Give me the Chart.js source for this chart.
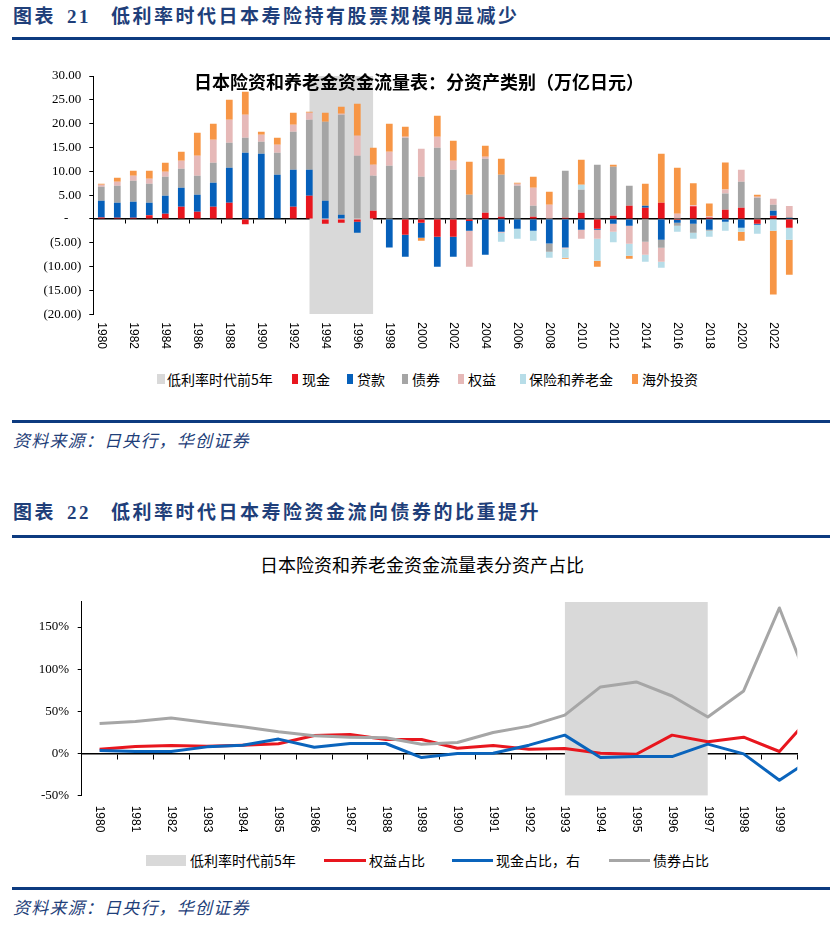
<!DOCTYPE html>
<html><head><meta charset="utf-8">
<script src="https://cdn.jsdelivr.net/npm/chart.js@4.4.1/dist/chart.umd.min.js"></script>
<style>
body{margin:0;width:839px;height:930px;background:#fff;position:relative;overflow:hidden;font-family:"Noto Sans CJK SC",sans-serif;}
.hdr{position:absolute;font-family:"Liberation Serif","Noto Sans CJK SC",serif;font-weight:bold;font-size:19px;line-height:24px;color:#1F3F7A;white-space:nowrap;letter-spacing:2.5px;}
.rule{position:absolute;left:12px;width:818px;height:3px;background:#0D3B80;}
.src{position:absolute;left:13px;font-style:italic;font-size:17px;line-height:22px;color:#1F3F7A;letter-spacing:1.2px;white-space:nowrap;}
.ttl{position:absolute;font-size:18px;line-height:22px;color:#000;white-space:nowrap;transform:translateX(-50%);}
.lg{position:absolute;font-size:14px;line-height:16px;color:#000;white-space:nowrap;}
.sw{position:absolute;}
canvas{position:absolute;left:0;}
</style></head>
<body>
<div class="hdr" style="left:13px;top:5px">图表</div>
<div class="hdr" style="left:67px;top:5px">21</div>
<div class="hdr" style="left:111px;top:5px">低利率时代日本寿险持有股票规模明显减少</div>
<div class="rule" style="top:37px"></div>

<canvas id="c1" width="839" height="300" style="top:60px"></canvas>
<div class="ttl" style="left:419px;top:70px;font-weight:bold">日本险资和养老金资金流量表：分资产类别（万亿日元）</div>

<div class="sw" style="left:157px;top:374px;width:8px;height:10px;background:#D9D9D9"></div>
<div class="lg" style="left:167px;top:371px">低利率时代前5年</div>
<div class="sw" style="left:292px;top:374px;width:6px;height:10px;background:#E8161E"></div>
<div class="lg" style="left:302px;top:371px">现金</div>
<div class="sw" style="left:347px;top:374px;width:6px;height:10px;background:#0660BA"></div>
<div class="lg" style="left:357px;top:371px">贷款</div>
<div class="sw" style="left:402px;top:374px;width:6px;height:10px;background:#A5A5A5"></div>
<div class="lg" style="left:412px;top:371px">债券</div>
<div class="sw" style="left:458px;top:374px;width:6px;height:10px;background:#E6B9B8"></div>
<div class="lg" style="left:468px;top:371px">权益</div>
<div class="sw" style="left:520px;top:374px;width:6px;height:10px;background:#B7DDE8"></div>
<div class="lg" style="left:529px;top:371px">保险和养老金</div>
<div class="sw" style="left:632px;top:374px;width:6px;height:10px;background:#F79646"></div>
<div class="lg" style="left:642px;top:371px">海外投资</div>

<div class="rule" style="top:420px"></div>
<div class="src" style="top:429px">资料来源：日央行，华创证券</div>

<div class="hdr" style="left:13px;top:501px">图表</div>
<div class="hdr" style="left:67px;top:501px">22</div>
<div class="hdr" style="left:111px;top:501px">低利率时代日本寿险资金流向债券的比重提升</div>
<div class="rule" style="top:535px"></div>

<div class="ttl" style="left:422px;top:553px">日本险资和养老金资金流量表分资产占比</div>
<canvas id="c2" width="839" height="260" style="top:590px"></canvas>

<div class="sw" style="left:146px;top:855px;width:40px;height:11px;background:#D9D9D9"></div>
<div class="lg" style="left:190px;top:852px">低利率时代前5年</div>
<div class="sw" style="left:324px;top:859px;width:42px;height:3px;background:#E8161E"></div>
<div class="lg" style="left:369px;top:852px">权益占比</div>
<div class="sw" style="left:452px;top:859px;width:41px;height:3px;background:#0A64BC"></div>
<div class="lg" style="left:496px;top:852px">现金占比，右</div>
<div class="sw" style="left:609px;top:859px;width:41px;height:3px;background:#A6A6A6"></div>
<div class="lg" style="left:653px;top:852px">债券占比</div>

<div class="rule" style="top:887px"></div>
<div class="src" style="top:896px">资料来源：日央行，华创证券</div>

<script>
// ---------- Chart 1 data (万亿日元) ----------
const years1 = ['1980','1981','1982','1983','1984','1985','1986','1987','1988','1989',
  '1990','1991','1992','1993','1994','1995','1996','1997','1998','1999',
  '2000','2001','2002','2003','2004','2005','2006','2007','2008','2009',
  '2010','2011','2012','2013','2014','2015','2016','2017','2018','2019',
  '2020','2021','2022','2023'];
const lowRateYears = ['1993','1994','1995','1996','1997'];
const cash = [0.3,0.28,0.28,0.77,1.12,2.59,1.54,2.59,3.43,-1.12,
  0,0,2.59,4.9,-0.98,-0.77,-0.56,1.75,0,-3.29,
  -0.77,-3.71,-3.71,-0.42,1.33,0.49,0,0.49,0,0.28,
  1.33,-2.03,0.7,2.8,2.38,3.43,-0.2,2.66,0.3,1.96,
  2.38,-0.98,0.7,-1.82];
const loans = [3.55,3.15,3.36,2.66,3.78,3.98,3.56,5.03,7.34,13.92,
  13.71,9.3,7.76,5.45,3.85,0.91,-2.31,0,-6.01,-4.62,
  -3.15,-6.29,-4.2,-2.03,-7.48,-2.66,-2.03,-2.45,-5.17,-6.01,
  -2.24,-0.21,-0.98,-1.4,0.42,-4.34,-0.6,-0.98,-2.24,-0.56,
  -1.82,-0.21,1.05,0.2];
const bonds = [2.93,3.56,4.4,3.98,3.98,3.99,3.99,4.2,5.24,3.14,
  2.51,4.62,7.97,10.49,16.57,20.98,13.29,7.34,11.19,17.06,
  8.88,14.97,10.35,5.1,11.33,8.81,6.99,2.31,-1.68,9.86,
  4.82,11.4,10.28,4.19,-4.76,-1.68,-0.6,-1.89,-0.21,3.36,
  5.45,4.48,1.26,0.2];
const equity = [0.42,0.84,1.05,1.05,1.05,1.68,4.2,4.82,4.83,4.83,
  1.47,1.67,1.47,1.47,0,0.2,4.19,2.31,2.94,0.21,
  5.88,2.3,1.89,-7.55,0.42,-0.21,0.42,3.77,3.01,-0.2,
  -1.89,-1.89,-1.68,-3.78,-2.73,-2.94,1.12,0.21,0.2,0.84,
  2.52,0.21,1.26,2.31];
const insurance = [0,0,0,0,0,0,0,0,0,0,
  0,0,0,0,0,0,0,0,0,0,
  0,0,0,0,0,-1.89,-2.1,-2.1,-1.26,-1.9,
  1.05,-4.61,-2.24,-2.52,-1.47,-1.26,-1.26,-1.26,-1.26,-1.89,
  -0.84,-1.89,-2.45,-2.52];
const overseas = [0.21,0.84,1.05,1.68,1.89,1.89,4.82,3.36,4.19,4.82,
  0.63,1.47,2.52,0.21,1.89,1.48,6.72,3.57,5.87,2.1,
  -0.63,4.41,4.19,6.93,2.3,3.36,0.21,2.31,2.72,-0.21,
  5.25,-1.26,0.42,-0.63,4.61,10.28,9.65,4.61,2.73,5.67,
  -1.89,0.42,-13.42,-7.34];
const yTicks1 = {min:-20, max:30, step:5};

// ---------- Chart 2 data (%) ----------
const years2 = ['1980','1981','1982','1983','1984','1985','1986','1987','1988','1989',
  '1990','1991','1992','1993','1994','1995','1996','1997','1998','1999','2000'];
const lastShownYear2 = '1999';
const equityShare = [5.2,8.3,9.5,8.7,9.9,11.5,21.4,22.6,16.7,16.7,
  6.3,9.5,5.2,6.0,0.4,-0.8,21.8,13.9,19.4,2.4,49.8];
const cashShare = [3.6,2.4,2.4,7.9,9.9,17.1,7.5,11.9,11.9,-4.8,
  0,0.4,9.9,21.8,-4.8,-3.6,-3.6,11.1,-0.4,-31.7,-3.6];
const bondShare = [35.7,38.1,42.1,36.9,31.7,25.8,21.0,19.4,18.7,11.1,
  13.1,25.0,32.5,45.6,79.0,84.9,68.2,43.3,74.2,172.6,64];
const yTicks2 = {min:-50, max:180, step:50};

// ---------- helpers ----------
function rotLabels(step, gap){
  return {
    id:'rotLabels',
    afterDraw(chart){
      const xs = chart.scales.x, ctx = chart.ctx, ca = chart.chartArea;
      ctx.save();
      ctx.font = '12px "Liberation Sans", Arial, sans-serif';
      ctx.fillStyle = '#000';
      ctx.textAlign = 'left';
      ctx.textBaseline = 'middle';
      for (let i = xs.min; i <= xs.max; i += step){
        const x = xs.getPixelForValue(i);
        ctx.save();
        ctx.translate(x, ca.bottom + gap);
        ctx.rotate(Math.PI/2);
        ctx.fillText(chart.data.labels[i], 0, 0);
        ctx.restore();
      }
      ctx.restore();
    }
  };
}
const tickFont = {family:'"Liberation Serif", "Times New Roman", serif', size:13};

// ---------- Chart 1 ----------
const shade1 = years1.map(y => lowRateYears.includes(y) ? yTicks1.max : null);
const barDs = (label, data, color) => ({type:'bar', label, data, backgroundColor:color,
  borderWidth:0, stack:'s', order:0, barPercentage:0.42, categoryPercentage:1});
new Chart(document.getElementById('c1'), {
  type:'bar',
  data:{
    labels: years1,
    datasets:[
      {type:'line', label:'低利率时代前5年', data:shade1, stack:'shade', order:5,
       borderColor:'rgba(0,0,0,0)', borderWidth:0, pointRadius:0, backgroundColor:'#D9D9D9',
       fill:{value:yTicks1.min}, spanGaps:false},
      barDs('现金', cash, '#E8161E'),
      barDs('贷款', loans, '#0660BA'),
      barDs('债券', bonds, '#A5A5A5'),
      barDs('权益', equity, '#E6B9B8'),
      barDs('保险和养老金', insurance, '#B7DDE8'),
      barDs('海外投资', overseas, '#F79646')
    ]
  },
  options:{
    responsive:false, animation:false, devicePixelRatio:1,
    layout:{padding:{left:0, right:41.7, top:16, bottom:45.7}},
    plugins:{legend:{display:false}, tooltip:{enabled:false}, title:{display:false}},
    scales:{
      x:{type:'category', stacked:true, offset:true, position:{y:0},
         ticks:{display:false, autoSkip:false},
         grid:{offset:true, drawOnChartArea:false, drawTicks:true, tickLength:4, lineWidth:1,
               color:(c)=> (c.index === undefined || c.index % 2 === 0) ? '#000' : 'rgba(0,0,0,0)'},
         border:{display:true, color:'#000', width:1.5}},
      y:{stacked:true, min:yTicks1.min, max:yTicks1.max,
         afterFit(s){ s.width = 93.3; s.paddingTop = 0; s.paddingBottom = 0; },
         ticks:{stepSize:yTicks1.step, color:'#000', font:tickFont, padding:8,
                callback:(v)=> v === 0 ? '-    ' : (v < 0 ? '(' + Math.abs(v).toFixed(2) + ')' : v.toFixed(2))},
         grid:{drawOnChartArea:false, drawTicks:true, tickLength:4, color:'#000'},
         border:{display:true, color:'#000', width:1}}
    }
  },
  plugins:[rotLabels(2, 8)]
});

// ---------- Chart 2 ----------
const shade2 = years2.map(y => lowRateYears.includes(y) ? yTicks2.max : null);
const lineDs = (label, data, color, order) => ({label, data, borderColor:color, backgroundColor:color,
  borderWidth:3, pointRadius:0, tension:0, fill:false, order, clip:{left:5, top:5, right:0, bottom:5},
  borderJoinStyle:'round'});
new Chart(document.getElementById('c2'), {
  type:'line',
  data:{
    labels: years2,
    datasets:[
      {label:'低利率时代前5年', data:shade2, order:5, borderColor:'rgba(0,0,0,0)', borderWidth:0,
       pointRadius:0, backgroundColor:'#D9D9D9', fill:{value:yTicks2.min}},
      lineDs('权益占比', equityShare, '#E8161E', 3),
      lineDs('现金占比，右', cashShare, '#0A64BC', 2),
      lineDs('债券占比', bondShare, '#A6A6A6', 1)
    ]
  },
  options:{
    responsive:false, animation:false, devicePixelRatio:1,
    layout:{padding:{left:0, right:41.7, top:11.7, bottom:54.3}},
    plugins:{legend:{display:false}, tooltip:{enabled:false}},
    scales:{
      x:{type:'category', offset:true, position:{y:0},
         afterDataLimits(s){ s.max = years2.indexOf(lastShownYear2); },
         ticks:{display:false, autoSkip:false},
         grid:{offset:true, drawOnChartArea:false, drawTicks:true, tickLength:5, color:'#000'},
         border:{display:true, color:'#000', width:1.5}},
      y:{min:yTicks2.min, max:yTicks2.max,
         afterFit(s){ s.width = 81.7; s.paddingTop = 0; s.paddingBottom = 0; },
         ticks:{stepSize:yTicks2.step, includeBounds:false, color:'#000', font:tickFont, padding:8.5,
                callback:(v)=> v + '%'},
         grid:{drawOnChartArea:false, drawTicks:true, tickLength:4, color:'#000'},
         border:{display:true, color:'#000', width:1}}
    }
  },
  plugins:[rotLabels(1, 10)]
});
</script>
</body></html>
